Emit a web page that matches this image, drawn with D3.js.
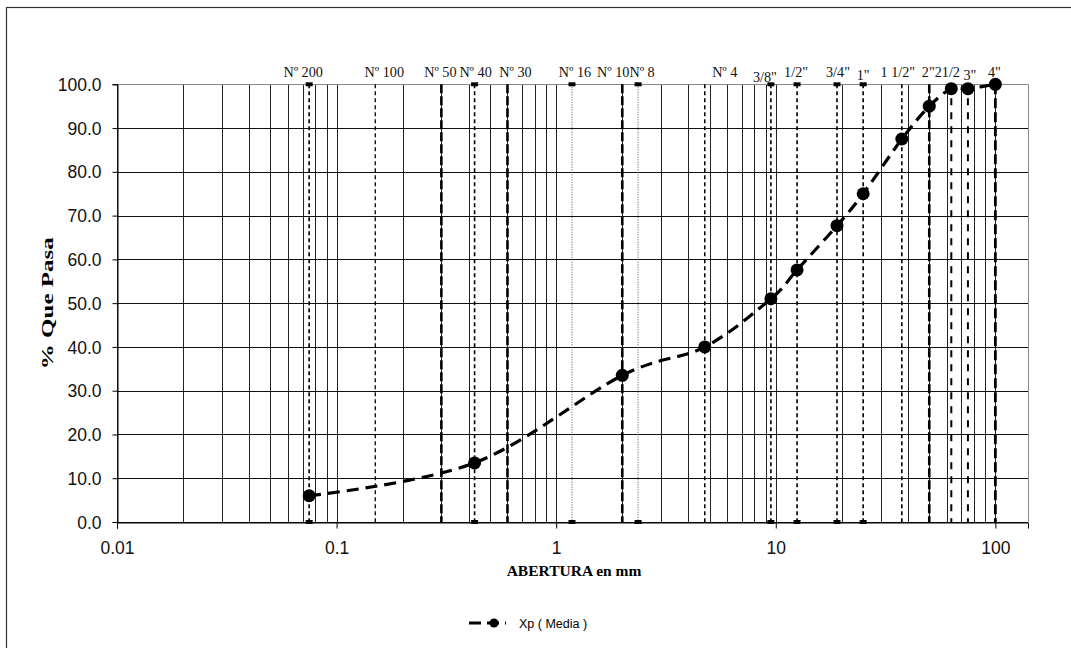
<!DOCTYPE html>
<html lang="en">
    <head>
        <meta charset="utf-8">
        <title>Curva granulometrica</title>
        <script type="text/javascript" src="https://d3js.org/d3.v7.min.js"></script>
    </head>
	<style>
		body { margin: 0; background: #fff; }
		svg { display: block; }
	</style>
    <body>

        <script type="text/javascript">

			// sieve names and openings (mm)
			var sieveNames = ["Nº 200","Nº 100","Nº 50","Nº 40","Nº 30","Nº 16","Nº 10","Nº 8","Nº 4",
							  "3/8\"","1/2\"","3/4\"","1\"","1 1/2\"","2\"","21/2","3\"","4\""];
			var sieveSizes = [0.075, 0.15, 0.3, 0.425, 0.6, 1.18, 2.0, 2.36, 4.75,
							  9.5, 12.5, 19, 25, 37.5, 50, 63, 75, 100];

			// Xp (Media) - % que pasa
			var pointSizes = [0.075, 0.425, 2.0, 4.75, 9.5, 12.5, 19, 25, 37.5, 50, 63, 75, 100];
			var pointPass  = [6.0, 13.5, 33.5, 40.0, 51.0, 57.6, 67.7, 75.0, 87.5, 95.0, 99.0, 99.0, 100.0];

			var yTicks = [0, 10, 20, 30, 40, 50, 60, 70, 80, 90, 100];
			var xTicks = [0.01, 0.1, 1, 10, 100];

			// look of each sieve line (same order as sieveSizes)
			var sieveStyle = [
				{w: 1.6, dash: "4,3", mark: true},
				{w: 1.3, dash: "4,3", mark: false},
				{w: 2.6, dash: "9,3", mark: false},
				{w: 1.6, dash: "4,3", mark: true},
				{w: 2.6, dash: "9,3", mark: false},
				{w: 1, dash: "1,1.5", mark: true},
				{w: 2.6, dash: "9,3", mark: false},
				{w: 1, dash: "1,1.5", mark: true},
				{w: 1.5, dash: "4,3", mark: false},
				{w: 1.6, dash: "4,3", mark: true},
				{w: 1.6, dash: "4,3", mark: true},
				{w: 1.6, dash: "4,3", mark: true},
				{w: 1.6, dash: "4,3", mark: true},
				{w: 1.6, dash: "4,3", mark: false},
				{w: 2.6, dash: "9,3", mark: false},
				{w: 2, dash: "7,7", mark: false},
				{w: 2, dash: "7,7", mark: false},
				{w: 2.8, dash: "10,4", mark: false}
			];
			// small label nudges (px) to keep names from colliding
			var labelShift = [[-6,0],[9,0],[-1,0],[1,0],[8,0],[3,0],[-9,0],[4,0],[20,0],
							  [-6,5],[-1,0],[1,0],[0,3],[-4,0],[-1,0],[-4,0],[2,3],[-1,0]];

			var w = 1071,
				h = 648,
				plotL = 117,
				plotR = 1028,
				plotT = 84.3,
				plotB = 522;

			var svg = d3.select("body")
						.append("svg")
						.attr("width", w)
						.attr("height", h);

			// chart frame
			svg.append("rect")
				.attr("x", 6.5).attr("y", 7.5)
				.attr("width", 1100).attr("height", 700)
				.attr("fill", "none")
				.attr("stroke", "#333")
				.attr("stroke-width", 1.2);

			var x = d3.scaleLog()
						.domain([0.01, 140.8])
						.range([plotL, plotR]);

			var y = d3.scaleLinear()
						.domain([0, 100])
						.range([plotB, plotT]);

			// minor log grid
			var gridX = [];
			[0.01, 0.1, 1, 10].forEach(function(dec) {
				for (var k = 1; k <= 9; k++) gridX.push(dec * k);
			});
			gridX.push(100);

			var grid = svg.append("g").attr("class", "grid");

			grid.selectAll("line.gx")
				.data(gridX)
				.enter()
				.append("line")
				.attr("class", "gx")
				.attr("x1", function(d) { return Math.round(x(d)) + 0.5; })
				.attr("x2", function(d) { return Math.round(x(d)) + 0.5; })
				.attr("y1", plotT)
				.attr("y2", plotB)
				.attr("stroke", "#222")
				.attr("stroke-width", 1);

			grid.selectAll("line.gy")
				.data(yTicks)
				.enter()
				.append("line")
				.attr("class", "gy")
				.attr("x1", plotL)
				.attr("x2", plotR)
				.attr("y1", function(d) { return Math.round(y(d)) + 0.5; })
				.attr("y2", function(d) { return Math.round(y(d)) + 0.5; })
				.attr("stroke", function(d) { return d === 100 ? "#888" : "#111"; })
				.attr("stroke-width", 1);

			// plot area border (right side)
			svg.append("line")
				.attr("x1", plotR + 0.5).attr("x2", plotR + 0.5)
				.attr("y1", plotT).attr("y2", plotB)
				.attr("stroke", "#888");

			// axes
			var yAxis = d3.axisLeft(y)
							.tickValues(yTicks)
							.tickSize(5)
							.tickFormat(d3.format(".1f"));

			var xAxis = d3.axisBottom(x)
							.tickValues(xTicks)
							.tickSize(6)
							.tickFormat(function(d) { return d < 1 ? d3.format(".2~f")(d) : d3.format("d")(d); });

			var gy = svg.append("g")
						.attr("transform", "translate(" + (plotL + 0.5) + ",0)")
						.call(yAxis);
			var gx = svg.append("g")
						.attr("transform", "translate(0," + (Math.round(plotB) + 0.5) + ")")
						.call(xAxis);

			[gx, gy].forEach(function(g) {
				g.select(".domain").attr("stroke", "#000");
				g.selectAll(".tick line").attr("stroke", "#000");
				g.selectAll("text")
					.attr("fill", "#111")
					.style("font-family", "'Liberation Sans', Arial, sans-serif")
					.style("font-size", "17.5px");
			});
			gy.selectAll("text").attr("x", -16).attr("dy", "0.35em");
			gx.selectAll("text").attr("y", 19);

			// sieve reference lines
			var sieves = svg.append("g").attr("class", "sieves");

			sieves.selectAll("line")
				.data(sieveSizes)
				.enter()
				.append("line")
				.attr("x1", function(d) { return x(d); })
				.attr("x2", function(d) { return x(d); })
				.attr("y1", y(100))
				.attr("y2", y(0))
				.attr("stroke", function(d, i) { return sieveStyle[i].dash === "1,1.5" ? "#555" : "#000"; })
				.attr("stroke-width", function(d, i) { return sieveStyle[i].w; })
				.attr("stroke-dasharray", function(d, i) { return sieveStyle[i].dash; });

			var marked = sieveSizes.filter(function(d, i) { return sieveStyle[i].mark; });
			[0, 100].forEach(function(v) {
				sieves.selectAll("rect.m" + v)
					.data(marked)
					.enter()
					.append("rect")
					.attr("class", "m" + v)
					.attr("x", function(d) { return x(d) - 3.5; })
					.attr("y", y(v) - 2)
					.attr("width", 7)
					.attr("height", 4)
					.attr("fill", "#000");
			});

			sieves.selectAll("text")
				.data(sieveNames)
				.enter()
				.append("text")
				.attr("x", function(d, i) { return x(sieveSizes[i]) + labelShift[i][0]; })
				.attr("y", function(d, i) { return 77 + labelShift[i][1]; })
				.attr("text-anchor", "middle")
				.style("font-family", "'Liberation Serif', 'Times New Roman', serif")
				.style("font-size", "14.2px")
				.attr("fill", "#111")
				.text(function(d) { return d; });

			// gradation curve
			var pts = pointSizes.map(function(d, i) { return [x(d), y(pointPass[i])]; });

			var line = d3.line()
						.curve(d3.curveCardinal.tension(0));

			svg.append("path")
				.attr("d", line(pts))
				.attr("fill", "none")
				.attr("stroke", "#000")
				.attr("stroke-width", 3.2)
				.attr("stroke-dasharray", "12,7");

			svg.selectAll("circle.pt")
				.data(pts)
				.enter()
				.append("circle")
				.attr("class", "pt")
				.attr("cx", function(d) { return d[0]; })
				.attr("cy", function(d) { return d[1]; })
				.attr("r", 6.5)
				.attr("fill", "#000");

			// axis titles
			svg.append("text")
				.attr("transform", "translate(53," + ((plotT + plotB) / 2) + ") rotate(-90)")
				.attr("text-anchor", "middle")
				.attr("textLength", 132)
				.attr("lengthAdjust", "spacingAndGlyphs")
				.style("font-family", "'Liberation Serif', 'Times New Roman', serif")
				.style("font-weight", "bold")
				.style("font-size", "16.5px")
				.text("% Que Pasa");

			svg.append("text")
				.attr("x", 574)
				.attr("y", 576)
				.attr("text-anchor", "middle")
				.style("font-family", "'Liberation Serif', 'Times New Roman', serif")
				.style("font-weight", "bold")
				.style("font-size", "15.5px")
				.text("ABERTURA en mm");

			// legend
			var lg = svg.append("g").attr("transform", "translate(469,623)");
			lg.append("line")
				.attr("x1", 0).attr("x2", 37)
				.attr("y1", 0).attr("y2", 0)
				.attr("stroke", "#000")
				.attr("stroke-width", 3)
				.attr("stroke-dasharray", "12,6");
			lg.append("circle")
				.attr("cx", 25).attr("cy", 0).attr("r", 4.5)
				.attr("fill", "#000");
			lg.append("text")
				.attr("x", 50).attr("y", 4.5)
				.style("font-family", "'Liberation Sans', Arial, sans-serif")
				.style("font-size", "12.5px")
				.text("Xp ( Media )");

        </script>
    </body>
</html>
